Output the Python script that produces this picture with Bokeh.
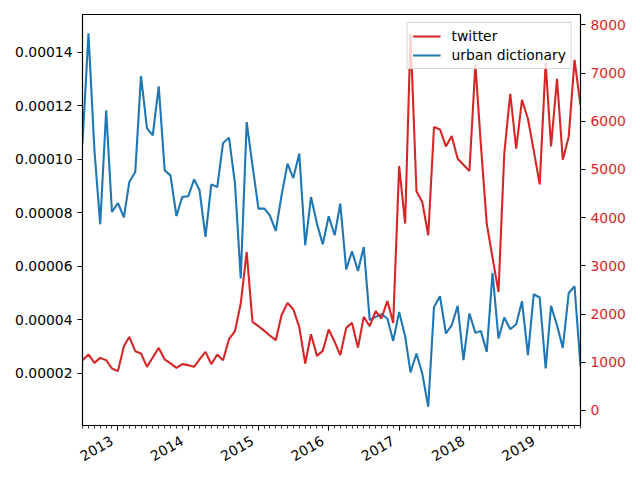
import math
import pandas as pd
from bokeh.plotting import figure
from bokeh.models import (Range1d, LinearAxis, DatetimeAxis, FixedTicker,
                          PrintfTickFormatter, DatetimeTickFormatter)
from bokeh.embed import file_html
from bokeh.resources import INLINE

# monthly observations, July 2012 .. August 2019
months = pd.date_range("2012-07-01", "2019-08-01", freq="MS")

# twitter (right axis, counts)
twitter = [1042, 1161, 987, 1090, 1042, 870, 815, 1333, 1525, 1229,
           1181, 904, 1098, 1297, 1057, 974, 883, 960, 939, 904,
           1057, 1214, 960, 1161, 1042, 1478, 1644, 2218, 3287, 1836,
           1747, 1650, 1554, 1457, 1975, 2230, 2099, 1733, 974, 1581,
           1132, 1235, 1679, 1422, 1146, 1712, 1816, 1306, 1940, 1747,
           2058, 1907, 2271, 1816, 5069, 3876, 7813, 4545, 4323, 3633,
           5878, 5830, 5478, 5691, 5223, 5098, 4966, 7177, 5534, 3876,
           3171, 2458, 5326, 6570, 5430, 6445, 6052, 5395, 4690, 7212,
           5478, 6881, 5202, 5685, 7274, 6327]

# urban dictionary (left axis, relative frequency)
urban = [1.0593e-4, 1.4709e-4, 1.0332e-4, 7.571e-5, 1.1825e-4, 8.030e-5, 8.366e-5, 7.832e-5, 9.149e-5, 9.522e-5,
         1.3104e-4, 1.1153e-4, 1.0892e-4, 1.2720e-4, 9.586e-5, 9.399e-5, 7.881e-5, 8.590e-5, 8.616e-5, 9.250e-5,
         8.840e-5, 7.097e-5, 9.063e-5, 8.963e-5, 1.0604e-4, 1.0806e-4, 9.101e-5, 5.545e-5, 1.1388e-4, 9.772e-5,
         8.157e-5, 8.157e-5, 7.907e-5, 7.321e-5, 8.653e-5, 9.836e-5, 9.299e-5, 1.0209e-4, 6.787e-5, 8.590e-5,
         7.597e-5, 6.825e-5, 7.869e-5, 7.160e-5, 8.343e-5, 5.881e-5, 6.563e-5, 5.828e-5, 6.724e-5, 3.989e-5,
         4.112e-5, 4.213e-5, 4.052e-5, 3.216e-5, 4.298e-5, 3.392e-5, 2.037e-5, 2.746e-5, 2.000e-5, 7.54e-6,
         4.485e-5, 4.884e-5, 3.493e-5, 3.802e-5, 4.522e-5, 2.496e-5, 4.239e-5, 3.515e-5, 3.590e-5, 2.806e-5,
         5.754e-5, 3.306e-5, 4.090e-5, 3.653e-5, 3.840e-5, 4.698e-5, 2.683e-5, 4.959e-5, 4.836e-5, 2.187e-5,
         4.522e-5, 3.802e-5, 2.955e-5, 5.007e-5, 5.257e-5, 2.272e-5]

year_ticks = ["2013-01-01", "2014-01-01", "2015-01-01", "2016-01-01",
              "2017-01-01", "2018-01-01", "2019-01-01"]
left_ticks = [0.00002, 0.00004, 0.00006, 0.00008, 0.00010, 0.00012, 0.00014]
right_ticks = [0, 1000, 2000, 3000, 4000, 5000, 6000, 7000, 8000]

RED = "#d62728"
BLUE = "#1f77b4"
FONT = "DejaVu Sans"
FS = "13.9px"
LABEL_SHIFT = pd.Timedelta(days=31)   # rotated labels sit left of their tick (matplotlib ha="right")


def ms(ts):
    return pd.Timestamp(ts).value // 10**6


year_ms = [ms(t) for t in year_ticks]
fmt = dict(years="%Y", months="%Y", days="%Y", hours="%Y", minutes="%Y", seconds="%Y",
           milliseconds="%Y", microseconds="%Y", hourmin="%Y", minsec="%Y")

p = figure(width=640, height=480, x_axis_type="datetime",
           x_range=Range1d(months[0], months[-1]),
           y_range=Range1d(5.6e-7, 1.5407e-4),
           output_backend="svg", toolbar_location=None,
           min_border_left=82, min_border_right=60,
           min_border_top=14, min_border_bottom=55)
p.extra_y_ranges = {"right": Range1d(-313, 8214)}
p.extra_x_ranges = {"labels": Range1d(months[0] + LABEL_SHIFT, months[-1] + LABEL_SHIFT)}

p.xgrid.visible = False
p.ygrid.visible = False
p.outline_line_color = "black"
p.outline_line_width = 1.1
p.background_fill_color = "white"
p.border_fill_color = "white"

p.line(months, urban, color=BLUE, line_width=2.1, legend_label="urban dictionary")
p.line(months, twitter, color=RED, line_width=2.1, y_range_name="right", legend_label="twitter")

right_axis = LinearAxis(y_range_name="right", ticker=FixedTicker(ticks=right_ticks))
p.add_layout(right_axis, "right")

# x axis: ticks only
xa = p.xaxis[0]
xa.ticker = FixedTicker(ticks=year_ms, minor_ticks=[ms(t) for t in months])
xa.formatter = DatetimeTickFormatter(**fmt)

# left axis
ya = p.yaxis[0]
ya.ticker = FixedTicker(ticks=left_ticks)
ya.formatter = PrintfTickFormatter(format="%.5f")

for ax in [xa, ya, right_axis]:
    ax.axis_line_color = "black"
    ax.axis_line_width = 1.1
    ax.major_tick_line_color = "black"
    ax.major_tick_line_width = 1.1
    ax.minor_tick_line_color = "black"
    ax.minor_tick_line_width = 0.8
    ax.major_tick_in = 0
    ax.major_tick_out = 5
    ax.minor_tick_in = 0
    ax.minor_tick_out = 3
    ax.major_label_text_font = FONT
    ax.major_label_text_font_size = FS
    ax.major_label_standoff = 5

xa.major_label_text_font_size = "1px"
xa.major_label_text_alpha = 0
xa.major_label_standoff = 0
ya.major_label_text_color = "black"
ya.minor_tick_out = 0
right_axis.minor_tick_out = 0
right_axis.major_label_text_color = RED

# x axis: rotated year labels
label_axis = DatetimeAxis(x_range_name="labels", ticker=FixedTicker(ticks=year_ms),
                          formatter=DatetimeTickFormatter(**fmt))
label_axis.axis_line_color = None
label_axis.major_tick_line_color = None
label_axis.minor_tick_line_color = None
label_axis.major_tick_in = 0
label_axis.major_tick_out = 0
label_axis.minor_tick_in = 0
label_axis.minor_tick_out = 0
label_axis.major_label_orientation = math.pi / 6
label_axis.major_label_standoff = 9
label_axis.major_label_text_font = FONT
label_axis.major_label_text_font_size = FS
label_axis.major_label_text_color = "black"
p.add_layout(label_axis, "below")

# legend: twitter first
lg = p.legend[0]
lg.items = [lg.items[1], lg.items[0]]
lg.location = "top_right"
lg.margin = 8
lg.padding = 5
lg.spacing = 3
lg.glyph_width = 28
lg.glyph_height = 16
lg.label_standoff = 11
lg.label_text_font = FONT
lg.label_text_font_size = FS
lg.label_text_color = "black"
lg.border_line_color = "#cccccc"
lg.border_line_alpha = 0.8
lg.background_fill_alpha = 0.8

open("out.html", "w").write(file_html(p, INLINE))
